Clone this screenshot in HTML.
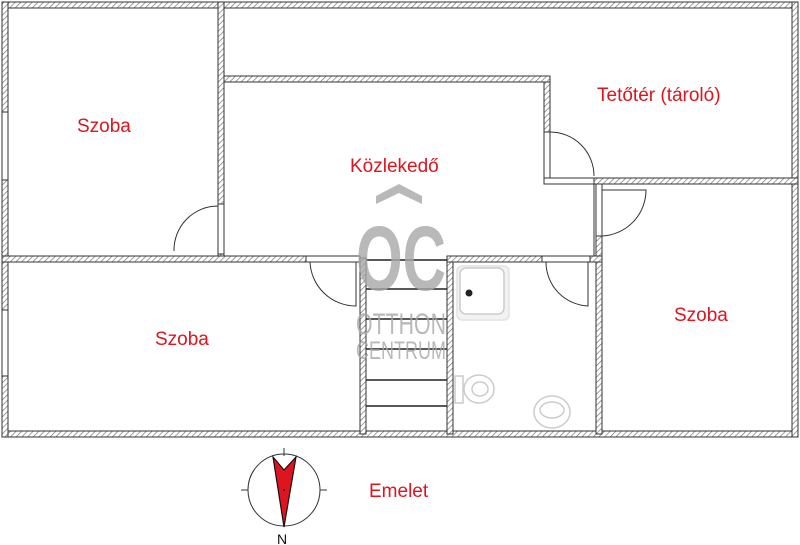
<!DOCTYPE html>
<html><head><meta charset="utf-8"><style>
html,body{margin:0;padding:0;background:#fff;}
svg{display:block;}
.t{font-family:"Liberation Sans",sans-serif;fill:#e0141e;font-size:19px;}
</style></head><body>
<svg width="800" height="545" viewBox="0 0 800 545" xmlns="http://www.w3.org/2000/svg">
<defs>
<pattern id="h" width="4" height="4" patternUnits="userSpaceOnUse" patternTransform="rotate(45)">
<rect width="4" height="4" fill="#fff"/><line x1="0" y1="0" x2="0" y2="4" stroke="#777" stroke-width="1.4"/>
</pattern>
</defs>
<g fill="url(#h)" stroke="#333" stroke-width="1">
<rect x="2" y="2" width="796" height="6"/>
<rect x="2" y="431" width="796" height="6"/>
<rect x="2" y="2" width="6" height="435"/>
<rect x="792" y="2" width="6" height="435"/>
<rect x="218" y="2" width="6" height="202"/>
<rect x="218" y="254" width="6" height="4"/>
<rect x="544" y="76" width="6" height="56"/>
<rect x="596" y="236" width="6" height="198"/>
<rect x="596" y="178" width="6" height="6"/>
<rect x="360" y="258" width="6" height="176"/>
<rect x="447" y="258" width="6" height="176"/>
<rect x="224" y="76" width="326" height="6"/>
<rect x="594" y="178" width="204" height="6"/>
<rect x="2" y="256" width="304" height="6"/>
<rect x="447" y="256" width="95" height="6"/>
<rect x="590" y="256" width="12" height="6"/>
</g>
<g fill="#fff" stroke="#333" stroke-width="1">
<rect x="544" y="178" width="50" height="6"/>
<rect x="218" y="204" width="6" height="50"/>
<rect x="306" y="256" width="54" height="6"/>
<rect x="542" y="256" width="48" height="6"/>
<rect x="596" y="184" width="6" height="52"/>
<rect x="544" y="132" width="6" height="46"/>
<line x1="594" y1="184" x2="594" y2="256"/>
</g>
<g stroke="#333" stroke-width="1" fill="#fff">
<rect x="2" y="112" width="6" height="68"/>
<rect x="2" y="310" width="6" height="66"/>
</g>
<g fill="none" stroke="#333" stroke-width="1">
<path d="M218 206 L218 251 M174 251 A44 44 0 0 1 218 206"/>
<path d="M310 262 A46 46 0 0 0 356 306 L356 262"/>
<path d="M550 132 A44 44 0 0 1 594 176"/>
<path d="M602 190 L602 236 M602 190 L646 190 A46 46 0 0 1 602 236"/>
<path d="M546 262 A44 44 0 0 0 588 306 L588 262"/>
</g>
<g stroke="#222" stroke-width="1.5">
<line x1="366" y1="260" x2="447" y2="260"/>
<line x1="366" y1="289" x2="447" y2="289"/>
<line x1="366" y1="319" x2="447" y2="319"/>
<line x1="366" y1="349" x2="447" y2="349"/>
<line x1="366" y1="380" x2="447" y2="380"/>
<line x1="366" y1="406" x2="447" y2="406"/>
</g>
<g fill="#fff" stroke="#ccc" stroke-width="1.5">
<rect x="457" y="266" width="52" height="54" rx="5" fill="#f2f2f2" stroke="#e3e3e3"/>
<rect x="460" y="268" width="44" height="46" rx="6"/>
<ellipse cx="479" cy="389" rx="15" ry="14"/>
<ellipse cx="480" cy="389" rx="8" ry="7"/>
<rect x="455" y="376" width="8" height="27"/>
<ellipse cx="552" cy="412" rx="18" ry="16"/>
<ellipse cx="552" cy="410" rx="12" ry="8"/>
</g>
<circle cx="469" cy="293" r="3.5" fill="#222"/>
<g fill="#a8a8a8" opacity="0.8" font-family="Liberation Sans,sans-serif" font-weight="bold">
<path d="M376 196 L399 184 L422 196 L422 204 L399 193 L376 204 Z"/>
<text x="356" y="290" font-size="92" textLength="90" lengthAdjust="spacingAndGlyphs">OC</text>
<text x="356" y="334" font-size="30" textLength="90" lengthAdjust="spacingAndGlyphs" font-weight="normal">OTTHON</text>
<text x="356" y="359" font-size="25" textLength="90" lengthAdjust="spacingAndGlyphs" font-weight="normal">CENTRUM</text>
</g>
<text class="t" x="77" y="132">Szoba</text>
<text class="t" x="350" y="172">Közlekedő</text>
<text class="t" x="597" y="101">Tetőtér (tároló)</text>
<text class="t" x="155" y="345">Szoba</text>
<text class="t" x="674" y="321">Szoba</text>
<text class="t" x="369" y="497">Emelet</text>
<g stroke="#333" stroke-width="1" fill="none">
<circle cx="284" cy="490" r="36"/>
<line x1="284" y1="448" x2="284" y2="456"/>
<line x1="241" y1="490" x2="248" y2="490"/>
<line x1="320" y1="490" x2="327" y2="490"/>
</g>
<path d="M273 457 L284 470 L296 457 L284 527 Z" fill="#e0141e" stroke="#111" stroke-width="1.2"/>
<circle cx="284" cy="490" r="1" fill="#111"/>
<text x="277" y="544" font-family="Liberation Sans,sans-serif" font-size="14" fill="#111">N</text>
</svg>
</body></html>
